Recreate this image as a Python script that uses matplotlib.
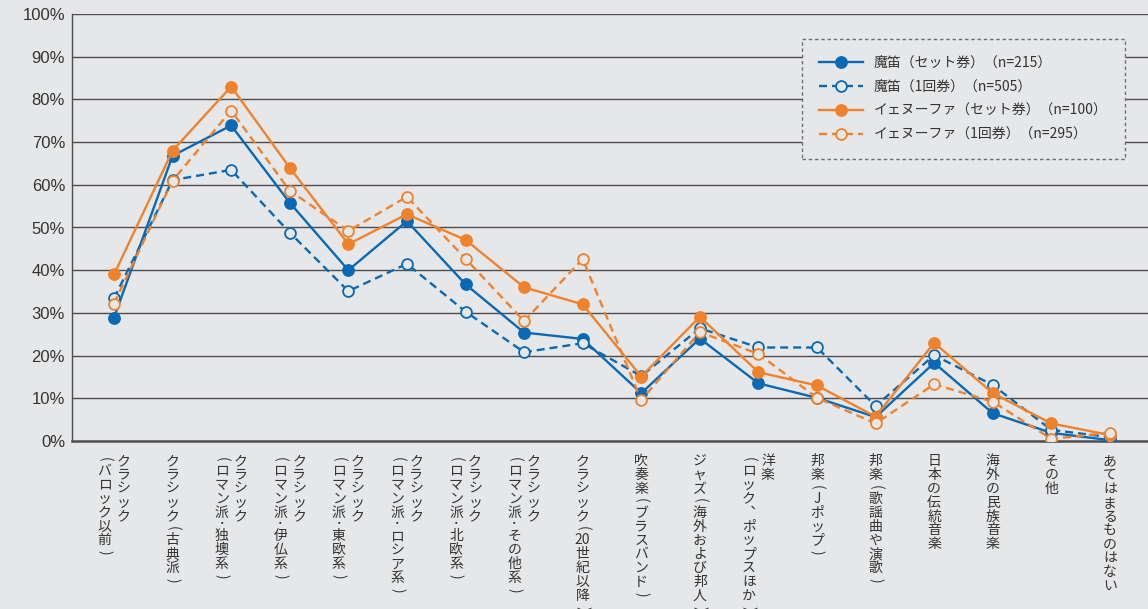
import matplotlib
matplotlib.use("Agg")
import matplotlib.pyplot as plt
from matplotlib.font_manager import FontProperties

# ---- data -------------------------------------------------------------
# Category labels, written vertically; "\n" starts a new column (right to left)
categories = [
    "クラシック\n(バロック以前)",
    "クラシック(古典派)",
    "クラシック\n(ロマン派・独墺系)",
    "クラシック\n(ロマン派・伊仏系)",
    "クラシック\n(ロマン派・東欧系)",
    "クラシック\n(ロマン派・ロシア系)",
    "クラシック\n(ロマン派・北欧系)",
    "クラシック\n(ロマン派・その他系)",
    "クラシック(20世紀以降)",
    "吹奏楽(ブラスバンド)",
    "ジャズ(海外および邦人)",
    "洋楽\n(ロック︑ポップスほか)",
    "邦楽(Jポップ)",
    "邦楽(歌謡曲や演歌)",
    "日本の伝統音楽",
    "海外の民族音楽",
    "その他",
    "あてはまるものはない",
]

magic_flute_set = [28.9, 66.8, 73.9, 55.8, 40.0, 51.5, 36.7, 25.4, 23.9,
                   11.2, 24.0, 13.5, 10.1, 5.6, 18.3, 6.5, 1.9, 0.2]
magic_flute_single = [33.4, 61.1, 63.5, 48.8, 35.1, 41.5, 30.3, 20.8, 22.9,
                      15.2, 26.4, 21.9, 21.9, 8.2, 20.1, 13.1, 2.6, 0.9]
jenufa_set = [39.0, 68.0, 83.0, 64.0, 46.1, 53.1, 47.1, 36.0, 32.0,
              15.1, 29.1, 16.1, 13.0, 5.7, 23.0, 11.2, 4.1, 1.4]
jenufa_single = [32.2, 61.0, 77.4, 58.6, 49.2, 57.2, 42.7, 28.1, 42.6,
                 9.6, 25.5, 20.4, 10.1, 4.1, 13.3, 9.2, 0.5, 1.9]

series_labels = [
    "魔笛（セット券）（n=215）",
    "魔笛（1回券）（n=505）",
    "イェヌーファ（セット券）（n=100）",
    "イェヌーファ（1回券）（n=295）",
]

y_ticks = [0, 10, 20, 30, 40, 50, 60, 70, 80, 90, 100]
y_tick_labels = [f"{v}%" for v in y_ticks]

# ---- style ------------------------------------------------------------
BG = "#e6e7e9"
GRID = "#4d4d4d"
TEXT = "#333333"
BLUE = "#0a69b4"
ORANGE = "#f0822c"
JP = ["Noto Sans CJK JP", "DejaVu Sans"]

W, H = 1148, 609
fig = plt.figure(figsize=(W / 100, H / 100), dpi=100, facecolor=BG)
ax = fig.add_axes([72 / W, 1 - 441 / H, 1 - 72 / W, (441 - 14) / H])
ax.set_facecolor(BG)

x = list(range(len(categories)))
ax.set_xlim(-0.717, len(categories) - 1 + 0.65)
ax.set_ylim(0, 100)

# horizontal rules
for v in y_ticks[1:]:
    ax.axhline(v, color=GRID, lw=1.0, zorder=1)
for s in ["top", "right"]:
    ax.spines[s].set_visible(False)
ax.spines["left"].set_color(GRID)
ax.spines["left"].set_linewidth(1.0)
ax.spines["bottom"].set_color(GRID)
ax.spines["bottom"].set_linewidth(1.8)

ax.set_yticks(y_ticks)
ax.set_yticklabels(y_tick_labels, fontfamily="Liberation Sans", fontsize=12,
                   color=TEXT)
ax.tick_params(axis="y", length=0, pad=5)
ax.set_xticks([])

dash = (0, (3.4, 2.1))
common = dict(lw=1.7, markersize=8.2)
open_kw = dict(lw=1.7, markersize=7.8, markeredgewidth=1.3, markerfacecolor=BG)

ax.plot(x, magic_flute_set, color=BLUE, marker="o", label=series_labels[0],
        zorder=3, **common)
ax.plot(x, magic_flute_single, color=BLUE, ls=dash, marker="o",
        label=series_labels[1], zorder=4, **open_kw)
ax.plot(x, jenufa_set, color=ORANGE, marker="o", label=series_labels[2],
        zorder=5, **common)
ax.plot(x, jenufa_single, color=ORANGE, ls=dash, marker="o",
        label=series_labels[3], zorder=6, **open_kw)


# ---- vertical category labels ---------------------------------------
FS = 10.0          # font size (pt); one cell = one em
COL_GAP = 13.7     # distance between column centres (pt)
TOP = -9.4         # top of each column below the axis (pt)


def cells(col):
    out, buf = [], ""
    for ch in col:
        if ch.isascii() and ch.isdigit():
            buf += ch
            continue
        if buf:
            out.append(buf)
            buf = ""
        out.append(ch)
    if buf:
        out.append(buf)
    return out


def draw_vertical(xpos, text):
    cols = text.split("\n")
    n = len(cols)
    for ci, col in enumerate(cols):
        dx = ((n - 1) / 2 - ci) * COL_GAP
        y = TOP
        for c in cells(col):
            size = FS
            if c in "()":
                adv = 0.72 * FS
            elif c == "・":
                adv = 0.7 * FS
                size = 7.5
            else:
                adv = FS
            cy = y - adv / 2
            rot = -90 if c in "()" else 0
            ax.annotate(c, xy=(xpos, 0), xycoords=("data", "axes fraction"),
                        xytext=(dx, cy), textcoords="offset points",
                        ha="center", va="center", rotation=rot,
                        fontsize=size, family=JP, color=TEXT,
                        annotation_clip=False)
            y -= adv


for xi, lab in zip(x, categories):
    draw_vertical(xi, lab)

# ---- legend ------------------------------------------------------------
leg = ax.legend(loc="upper left", bbox_to_anchor=(802 / W, 1 - 39 / H),
                bbox_transform=fig.transFigure,
                prop=FontProperties(family=JP, size=10),
                frameon=True, fancybox=False, edgecolor="#707070",
                facecolor=BG, framealpha=1, handlelength=3.2,
                handletextpad=0.75, labelspacing=0.72, borderpad=1.22,
                borderaxespad=0, numpoints=1)
leg.get_frame().set_linestyle((0, (2.5, 2)))
leg.get_frame().set_linewidth(1.0)
leg.set_zorder(10)
for t in leg.get_texts():
    t.set_color(TEXT)

fig.savefig("out.png", dpi=100, facecolor=BG)
